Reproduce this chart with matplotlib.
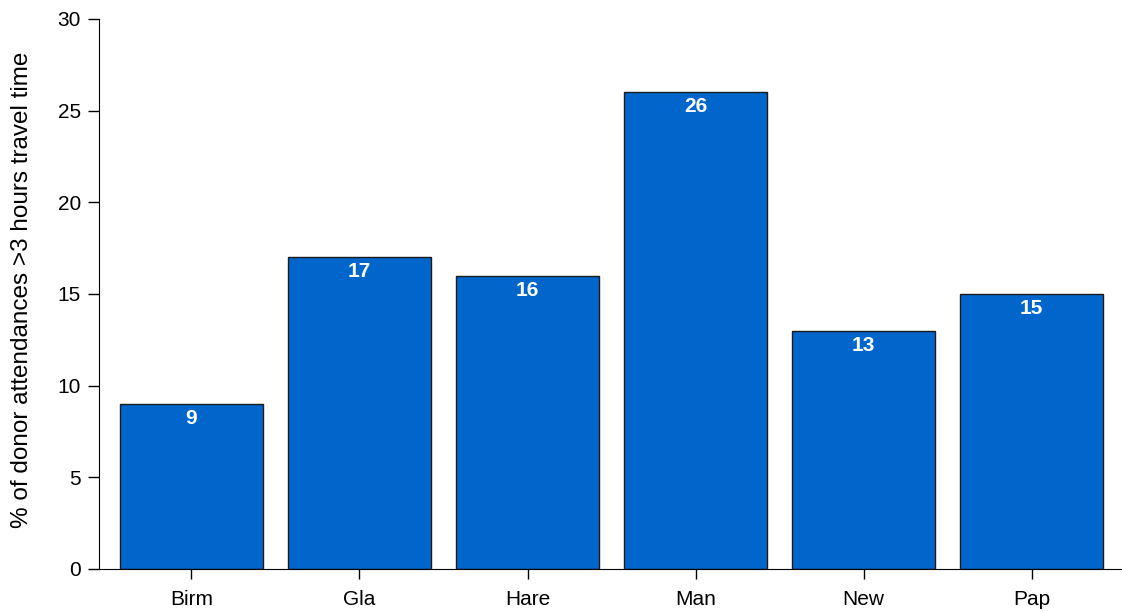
import matplotlib
matplotlib.use('Agg')
import matplotlib.pyplot as plt

# data
sites = ['Birm', 'Gla', 'Hare', 'Man', 'New', 'Pap']
pct_over_3h = [9, 17, 16, 26, 13, 15]
y_ticks = [0, 5, 10, 15, 20, 25, 30]

plt.rcParams['font.family'] = ['Liberation Sans', 'DejaVu Sans']
plt.rcParams['font.size'] = 15

fig = plt.figure(figsize=(11.22, 6.12), dpi=100)
ax = fig.add_axes([0.0882, 0.0703, 0.9108, 0.8987])

x = range(len(sites))
bars = ax.bar(x, pct_over_3h, width=0.85, color='#0066CC',
              edgecolor='#1a1a1a', linewidth=1.0)

# value labels just inside the top of each bar
for b, v in zip(bars, pct_over_3h):
    ax.annotate(str(v), (b.get_x() + b.get_width() / 2, v),
                xytext=(0, -14.5), textcoords='offset points',
                ha='center', va='baseline', color='white',
                fontweight='bold', fontsize=15)

ax.set_xlim(-0.55, 5.53)
ax.set_ylim(0, 30)
ax.set_yticks(y_ticks)
ax.set_xticks(list(x))
ax.set_xticklabels(sites, fontsize=15)
ax.set_ylabel('% of donor attendances >3 hours travel time', fontsize=17.5)
ax.yaxis.set_label_coords(-0.0646, 0.507)

ax.spines['top'].set_visible(False)
ax.spines['right'].set_visible(False)
ax.tick_params(axis='y', direction='out', length=8, width=1, pad=5)
ax.tick_params(axis='x', direction='out', length=7, width=1, pad=8)

fig.savefig('out.png', dpi=100)
